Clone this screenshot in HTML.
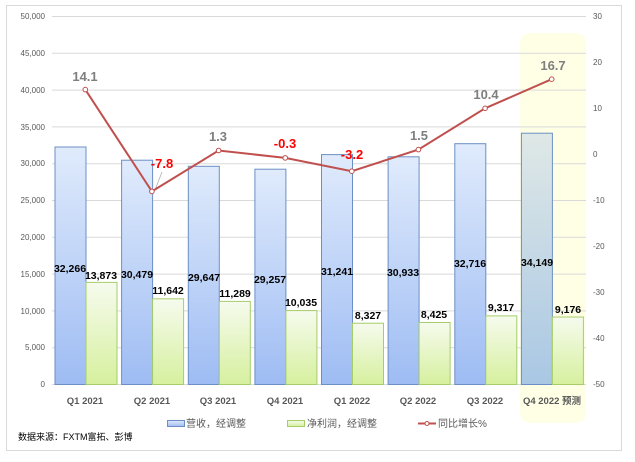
<!DOCTYPE html>
<html><head><meta charset="utf-8"><style>
body{margin:0;background:#fff;}
svg{display:block;font-family:"Liberation Sans","Noto Sans CJK SC",sans-serif;}
</style></head><body>
<svg width="635" height="462" viewBox="0 0 635 462" xmlns="http://www.w3.org/2000/svg">
<defs>
<linearGradient id="gb" x1="0" y1="0" x2="0" y2="1"><stop offset="0" stop-color="#e0ebfc"/><stop offset="1" stop-color="#9ebcf3"/></linearGradient>
<linearGradient id="gg" x1="0" y1="0" x2="0" y2="1"><stop offset="0" stop-color="#f6fbee"/><stop offset="1" stop-color="#d6f09e"/></linearGradient>
<linearGradient id="gs" x1="0" y1="0" x2="0" y2="1"><stop offset="0" stop-color="#dfe8e6"/><stop offset="1" stop-color="#a9c7e4"/></linearGradient>
</defs>
<rect x="6.5" y="5.5" width="615" height="445" fill="#fff" stroke="#d9d9d9"/>
<rect x="520" y="33" width="66" height="390" rx="10" fill="#ffffe6"/>
<g stroke="#d9d9d9" stroke-width="1">
<line x1="52" x2="586" y1="16.5" y2="16.5"/><line x1="52" x2="586" y1="53.3" y2="53.3"/><line x1="52" x2="586" y1="90.1" y2="90.1"/><line x1="52" x2="586" y1="126.9" y2="126.9"/><line x1="52" x2="586" y1="163.7" y2="163.7"/><line x1="52" x2="586" y1="200.5" y2="200.5"/><line x1="52" x2="586" y1="237.3" y2="237.3"/><line x1="52" x2="586" y1="274.1" y2="274.1"/><line x1="52" x2="586" y1="310.9" y2="310.9"/><line x1="52" x2="586" y1="347.7" y2="347.7"/><line x1="52" x2="586" y1="384.5" y2="384.5"/>
</g>
<g font-size="8" fill="#595959" text-anchor="end">
<text x="45" y="19">50,000</text><text x="45" y="56">45,000</text><text x="45" y="93">40,000</text><text x="45" y="130">35,000</text><text x="45" y="166">30,000</text><text x="45" y="203">25,000</text><text x="45" y="240">20,000</text><text x="45" y="277">15,000</text><text x="45" y="314">10,000</text><text x="45" y="350">5,000</text><text x="45" y="387">0</text>
</g>
<g font-size="8" fill="#595959">
<text x="593" y="19">30</text><text x="593" y="65">20</text><text x="593" y="111">10</text><text x="593" y="157">0</text><text x="593" y="203">-10</text><text x="593" y="249">-20</text><text x="593" y="295">-30</text><text x="593" y="341">-40</text><text x="593" y="387">-50</text>
</g>
<g stroke="#6b8fc4" stroke-width="1" fill="url(#gb)">
<rect x="55" y="147.0" width="31" height="237.5"/>
<rect x="121.6" y="160.2" width="31" height="224.3"/>
<rect x="188.3" y="166.3" width="31" height="218.2"/>
<rect x="254.9" y="169.2" width="31" height="215.3"/>
<rect x="321.5" y="154.6" width="31" height="229.9"/>
<rect x="388.1" y="156.8" width="31" height="227.7"/>
<rect x="454.8" y="143.7" width="31" height="240.8"/>
<rect x="521.4" y="133.2" width="31" height="251.3" fill="url(#gs)"/>
</g>
<g stroke="#a6cd6a" stroke-width="1" fill="url(#gg)">
<rect x="86" y="282.4" width="31" height="102.1"/>
<rect x="152.6" y="298.8" width="31" height="85.7"/>
<rect x="219.3" y="301.4" width="31" height="83.1"/>
<rect x="285.9" y="310.6" width="31" height="73.9"/>
<rect x="352.5" y="323.2" width="31" height="61.3"/>
<rect x="419.1" y="322.5" width="31" height="62.0"/>
<rect x="485.8" y="315.9" width="31" height="68.6"/>
<rect x="552.4" y="317.0" width="31" height="67.5"/>
</g>
<g font-size="10.5" font-weight="bold" fill="#000" text-anchor="middle">
<text x="70" y="272">32,266</text><text x="101" y="279">13,873</text>
<text x="137" y="278">30,479</text><text x="168" y="294">11,642</text>
<text x="204" y="281">29,647</text><text x="235" y="297">11,289</text>
<text x="270" y="283">29,257</text><text x="301" y="306">10,035</text>
<text x="337" y="275">31,241</text><text x="368" y="319">8,327</text>
<text x="403" y="276">30,933</text><text x="434" y="318">8,425</text>
<text x="470" y="267">32,716</text><text x="501" y="311">9,317</text>
<text x="537" y="266">34,149</text><text x="568" y="313">9,176</text>
</g>
<line x1="155" y1="190" x2="162" y2="172" stroke="#a6a6a6" stroke-width="0.7"/>
<polyline fill="none" stroke="#c0504d" stroke-width="2" points="85.3,89.6 151.9,191.4 218.6,150.5 285.2,157.9 351.8,171.2 418.4,149.6 485.1,108.3 551.7,79.2"/>
<g fill="#fff" stroke="#c0504d" stroke-width="1">
<circle cx="85.3" cy="89.6" r="2.3"/><circle cx="151.9" cy="191.4" r="2.3"/><circle cx="218.6" cy="150.5" r="2.3"/><circle cx="285.2" cy="157.9" r="2.3"/><circle cx="351.8" cy="171.2" r="2.3"/><circle cx="418.4" cy="149.6" r="2.3"/><circle cx="485.1" cy="108.3" r="2.3"/><circle cx="551.7" cy="79.2" r="2.3"/>
</g>
<g font-size="13" font-weight="bold" text-anchor="middle">
<text x="85" y="81" fill="#7f7f7f">14.1</text>
<text x="162" y="168" fill="#ff0000">-7.8</text>
<text x="218" y="141" fill="#7f7f7f">1.3</text>
<text x="285" y="148" fill="#ff0000">-0.3</text>
<text x="352" y="159" fill="#ff0000">-3.2</text>
<text x="419" y="140" fill="#7f7f7f">1.5</text>
<text x="486" y="99" fill="#7f7f7f">10.4</text>
<text x="553" y="70" fill="#7f7f7f">16.7</text>
</g>
<g font-size="9.5" font-weight="bold" fill="#595959" text-anchor="middle">
<text x="85" y="404">Q1 2021</text><text x="152" y="404">Q2 2021</text><text x="218" y="404">Q3 2021</text><text x="285" y="404">Q4 2021</text><text x="352" y="404">Q1 2022</text><text x="418" y="404">Q2 2022</text><text x="485" y="404">Q3 2022</text><text x="552" y="404">Q4 2022 预测</text>
</g>
<rect x="167.5" y="420.5" width="17" height="6" fill="url(#gb)" stroke="#6b8fc4"/>
<text x="186" y="427" font-size="10" fill="#595959">营收，经调整</text>
<rect x="287.5" y="420.5" width="17" height="6" fill="url(#gg)" stroke="#a6cd6a"/>
<text x="307" y="427" font-size="10" fill="#595959">净利润，经调整</text>
<line x1="418" y1="423.5" x2="436" y2="423.5" stroke="#c0504d" stroke-width="2"/>
<circle cx="427" cy="423.5" r="2" fill="#fff" stroke="#c0504d"/>
<text x="438" y="427" font-size="10" fill="#595959">同比增长%</text>
<text x="18" y="440" font-size="9" fill="#000">数据来源：FXTM富拓、彭博</text>
</svg>
</body></html>
